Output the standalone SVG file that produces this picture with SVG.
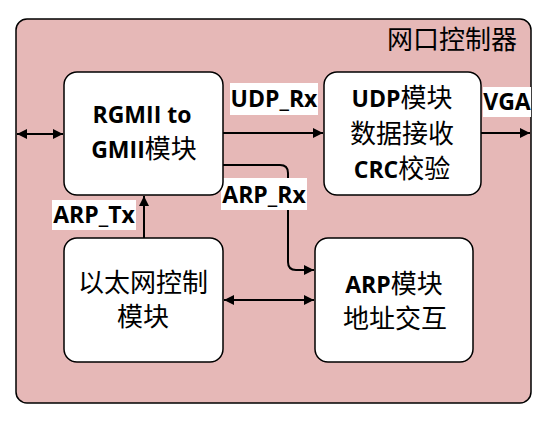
<svg xmlns="http://www.w3.org/2000/svg" width="550" height="423" viewBox="0 0 550 423">
<style>
.box{fill:#ffffff;stroke:#000000;stroke-width:1.5}
.lat{font-family:"Open Sans","Noto Sans CJK SC",sans-serif;font-weight:700;font-size:23px;fill:#000000;text-anchor:middle}
.cjk{font-family:"Noto Sans CJK SC",sans-serif;font-weight:400;font-size:26px}
.big{font-family:"Noto Sans CJK SC",sans-serif;font-weight:400;font-size:26px;fill:#000000;text-anchor:middle}
.conn{fill:none;stroke:#000000;stroke-width:2}
.lbg{fill:#ffffff}
</style>
<defs>
<marker id="ah" viewBox="0 0 10 10" refX="10" refY="5" markerWidth="10" markerHeight="10" markerUnits="userSpaceOnUse" orient="auto-start-reverse">
<path d="M0,0 L10,5 L0,10 Z" fill="#000000"/>
</marker>
</defs>
<rect width="550" height="423" fill="#ffffff"/>
<g id="controller">
<rect x="16" y="19" width="515" height="384" rx="11" fill="#e6b8b7" stroke="#000000" stroke-width="1.5"/>
<text x="517" y="49" class="big" style="text-anchor:end;font-size:26px">网口控制器</text>
</g>
<g id="connectors">
<path class="conn" d="M17,134 H63" marker-start="url(#ah)" marker-end="url(#ah)"/>
<path class="conn" d="M223,133 H323" marker-end="url(#ah)"/>
<path class="conn" d="M481,133 H530" marker-end="url(#ah)"/>
<path class="conn" d="M223,165 H280 Q288,165 288,173 V262 Q288,270 296,270 H314" marker-end="url(#ah)"/>
<path class="conn" d="M144,238 V196" marker-end="url(#ah)"/>
<path class="conn" d="M224,300 H314" marker-start="url(#ah)" marker-end="url(#ah)"/>
</g>
<g id="labels">
<rect class="lbg" x="230" y="83" width="88" height="32"/>
<text class="lat" x="274" y="107">UDP_Rx</text>
<rect class="lbg" x="483" y="87" width="48" height="30"/>
<text class="lat" x="507" y="110">VGA</text>
<rect class="lbg" x="221" y="178" width="86" height="32"/>
<text class="lat" x="264" y="203">ARP_Rx</text>
<rect class="lbg" x="52" y="200" width="84" height="30"/>
<text class="lat" x="94" y="223">ARP_Tx</text>
</g>
<g id="rgmii">
<rect class="box" x="64" y="72" width="159" height="123" rx="13"/>
<text class="lat" x="142" y="123">RGMII to</text>
<text class="lat" x="144" y="158">GMII<tspan class="cjk">模块</tspan></text>
</g>
<g id="udp">
<rect class="box" x="324" y="72" width="157" height="123" rx="13"/>
<text class="lat" x="402" y="107">UDP<tspan class="cjk">模块</tspan></text>
<text class="big" x="402" y="143">数据接收</text>
<text class="lat" x="402" y="178">CRC<tspan class="cjk">校验</tspan></text>
</g>
<g id="ethernet">
<rect class="box" x="64" y="238" width="159" height="124" rx="13"/>
<text class="big" x="143" y="292">以太网控制</text>
<text class="big" x="143" y="326">模块</text>
</g>
<g id="arp">
<rect class="box" x="315" y="238" width="158" height="124" rx="13"/>
<text class="lat" x="394" y="293">ARP<tspan class="cjk">模块</tspan></text>
<text class="big" x="395" y="328">地址交互</text>
</g>
</svg>
